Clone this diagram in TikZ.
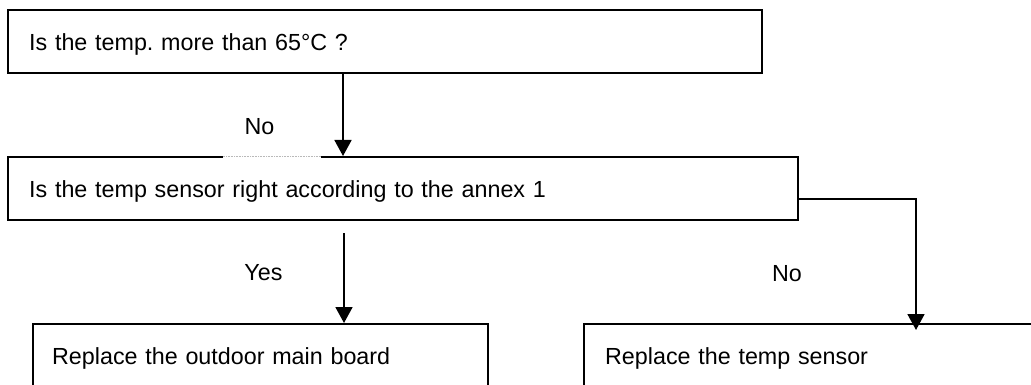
\documentclass[tikz,border=0pt]{standalone}
\usepackage{fontspec}
\setmainfont{Liberation Sans}
\usetikzlibrary{arrows.meta}
\frenchspacing
\begin{document}
\begin{tikzpicture}[x=1pt,y=-1pt,
  txt/.style={font=\fontsize{23.3pt}{28pt}\selectfont},
  box/.style={txt,draw=black,line width=2.3pt,rectangle,anchor=north west,
    minimum height=63pt,align=left,inner ysep=0pt,text height=17pt,text depth=0pt},
  lbl/.style={txt,inner sep=0pt,text height=17pt,text depth=0pt},
  arr/.style={line width=1.8pt,-{Triangle[length=16pt,width=17pt]}}]
\clip (0,0) rectangle (1031,385);
\fill[white] (0,0) rectangle (1031,385);
% boxes
\node[box,inner xsep=21pt,text width=712pt] (b1) at (7,9) {Is the temp. more than 65°C ?};
\node[box,inner xsep=21pt,text width=748pt] (b2) at (7,156) {Is the temp sensor right according to the annex 1};
\node[box,inner xsep=19pt,text width=417pt,minimum height=64pt] (b3) at (32,323) {Replace the outdoor main board};
\node[box,inner xsep=21pt,text width=500pt,minimum height=64pt] (b4) at (583,323) {Replace the temp sensor};
% gap in the top edge of b2 (covered by the label's text box)
\node[fill=white,inner sep=0pt,minimum width=98pt,minimum height=5pt] (gap) at (272,156.5) {};
\draw[gray!55,line width=0.6pt,dash pattern=on 1pt off 0.6pt] (gap.west) -- (gap.east);
% connector coordinates
\coordinate (c1) at (343,0);
\coordinate (ys) at (344,233);
\coordinate (rx) at (916,199);
% connectors
\draw[arr] (b1.south -| c1) -- (b2.north -| c1);
\draw[arr] (ys) -- (b3.north -| ys);
\draw[arr,shorten >=-7pt] (b2.east |- rx) -- (rx) -- (b4.north -| rx);
% labels
\node[lbl] (no1) at (259.5,126) {No};
\node[lbl] (yes) at (263.5,272) {Yes};
\node[lbl] (no2) at (787,273) {No};
\end{tikzpicture}
\end{document}
